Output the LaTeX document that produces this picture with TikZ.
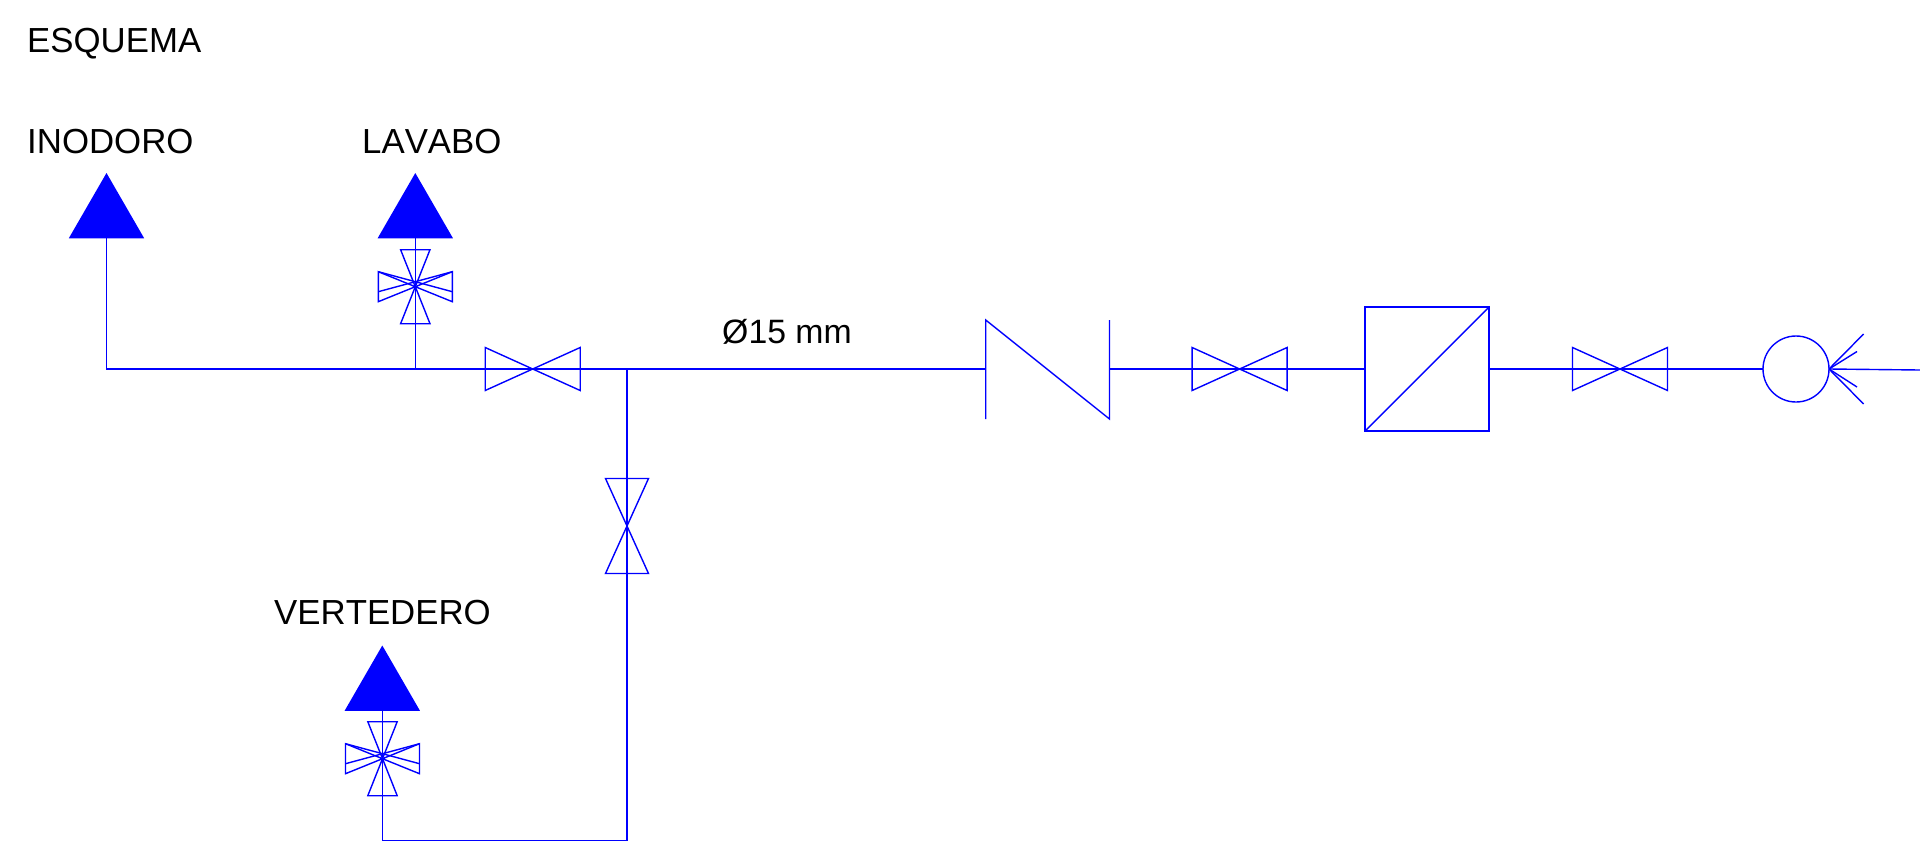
\documentclass[tikz,border=0pt]{standalone}
\usepackage{fontspec}
\setmainfont[Kerning=Off]{Liberation Sans}
\usetikzlibrary{shapes.geometric}
\tikzstyle{pipe} = [draw,blue,line width=1.4pt]
\tikzstyle{tip} = [regular polygon,regular polygon sides=3,fill=blue,minimum size=87pt,inner sep=0pt,outer sep=0pt]
\tikzstyle{tag} = [anchor=base west,inner sep=0pt,font=\fontsize{34.8}{40}\selectfont]
\tikzstyle{device} = [draw,blue,line width=1.4pt,inner sep=0pt,outer sep=0pt]

\begin{document}
\begin{tikzpicture}[x=1pt,y=-1pt]
 \useasboundingbox (0,0) rectangle (1920,841);

 % texts
 \foreach \pos/\name/\word in {{(27,52)/esquema/ESQUEMA}, {(27,153)/inodoro/INODORO}, {(362,153)/lavabo/LAVABO}, {(274,624.5)/vertedero/VERTEDERO}}
    \node[tag] (\name) at \pos {\word};
 \node[tag,font=\fontsize{33.8}{40}\selectfont] (diam) at (722,343.5) {Ø15 mm};

 % outlets
 \foreach \pos/\name in {{(106.5,216.5)/tipI}, {(415.3,216.5)/tipL}, {(382.3,689)/tipV}}
    \node[tip] (\name) at \pos {};

 % valves along the pipe
 \foreach \pos in {(532.7,369), (1239.6,369), (1620,369)}
    \path[pipe] \pos ++(-47.5,-21.5) -- ++(0,43) -- ++(95,-43) -- ++(0,43) -- cycle;
 \path[pipe] (627,526) ++(-21.5,-47.5) -- ++(43,0) -- ++(-43,95) -- ++(43,0) -- cycle;

 % taps below the outlets
 \foreach \pos in {(415.3,286.7), (382.5,758.7)}{
    \path[pipe] \pos ++(-14.7,-37) -- ++(29.4,0) -- ++(-29.4,74) -- ++(29.4,0) -- cycle;
    \path[pipe] \pos ++(-37,-15) -- ++(0,30) -- ++(74,-30) -- ++(0,30) -- cycle;
    \path[pipe] \pos ++(-37,-15) -- ++(74,20);
    \path[pipe] \pos ++(-37,5) -- ++(74,-20);
 }

 % check valve, filter, meter
 \coordinate (checkL) at (985.7,369);
 \coordinate (checkR) at (1109.5,369);
 \path[pipe] (checkL) ++(0,50) -- ++(0,-99) -- ++(123.8,99) -- ++(0,-99);
 \node[device,rectangle,minimum size=124pt] (filter) at (1427,369) {};
 \path[pipe] (filter.south west) -- (filter.north east);
 \node[device,circle,minimum size=66pt] (meter) at (1796,369) {};

 % inlet fan
 \coordinate (inlet) at (1920,370);
 \foreach \pos in {(1863.6,334), (1857,351.5), (1857,387), (1863.6,404)}
    \path[pipe] (meter.east) -- \pos;

 % pipes
 \coordinate (teeL) at (415.3,369);
 \coordinate (teeV) at (627,369);
 \coordinate (cornerV) at (627,840.3);
 \path[pipe] (tipI.south) |- (checkL);
 \path[pipe] (tipL.south) -- (teeL);
 \path[pipe] (teeV) -- (cornerV) -- (tipV.south |- cornerV) -- (tipV.south);
 \path[pipe] (checkR) -- (filter.west);
 \path[pipe] (filter.east) -- (meter.west);
 \path[pipe] (meter.east) -- (inlet);
\end{tikzpicture}
\end{document}
